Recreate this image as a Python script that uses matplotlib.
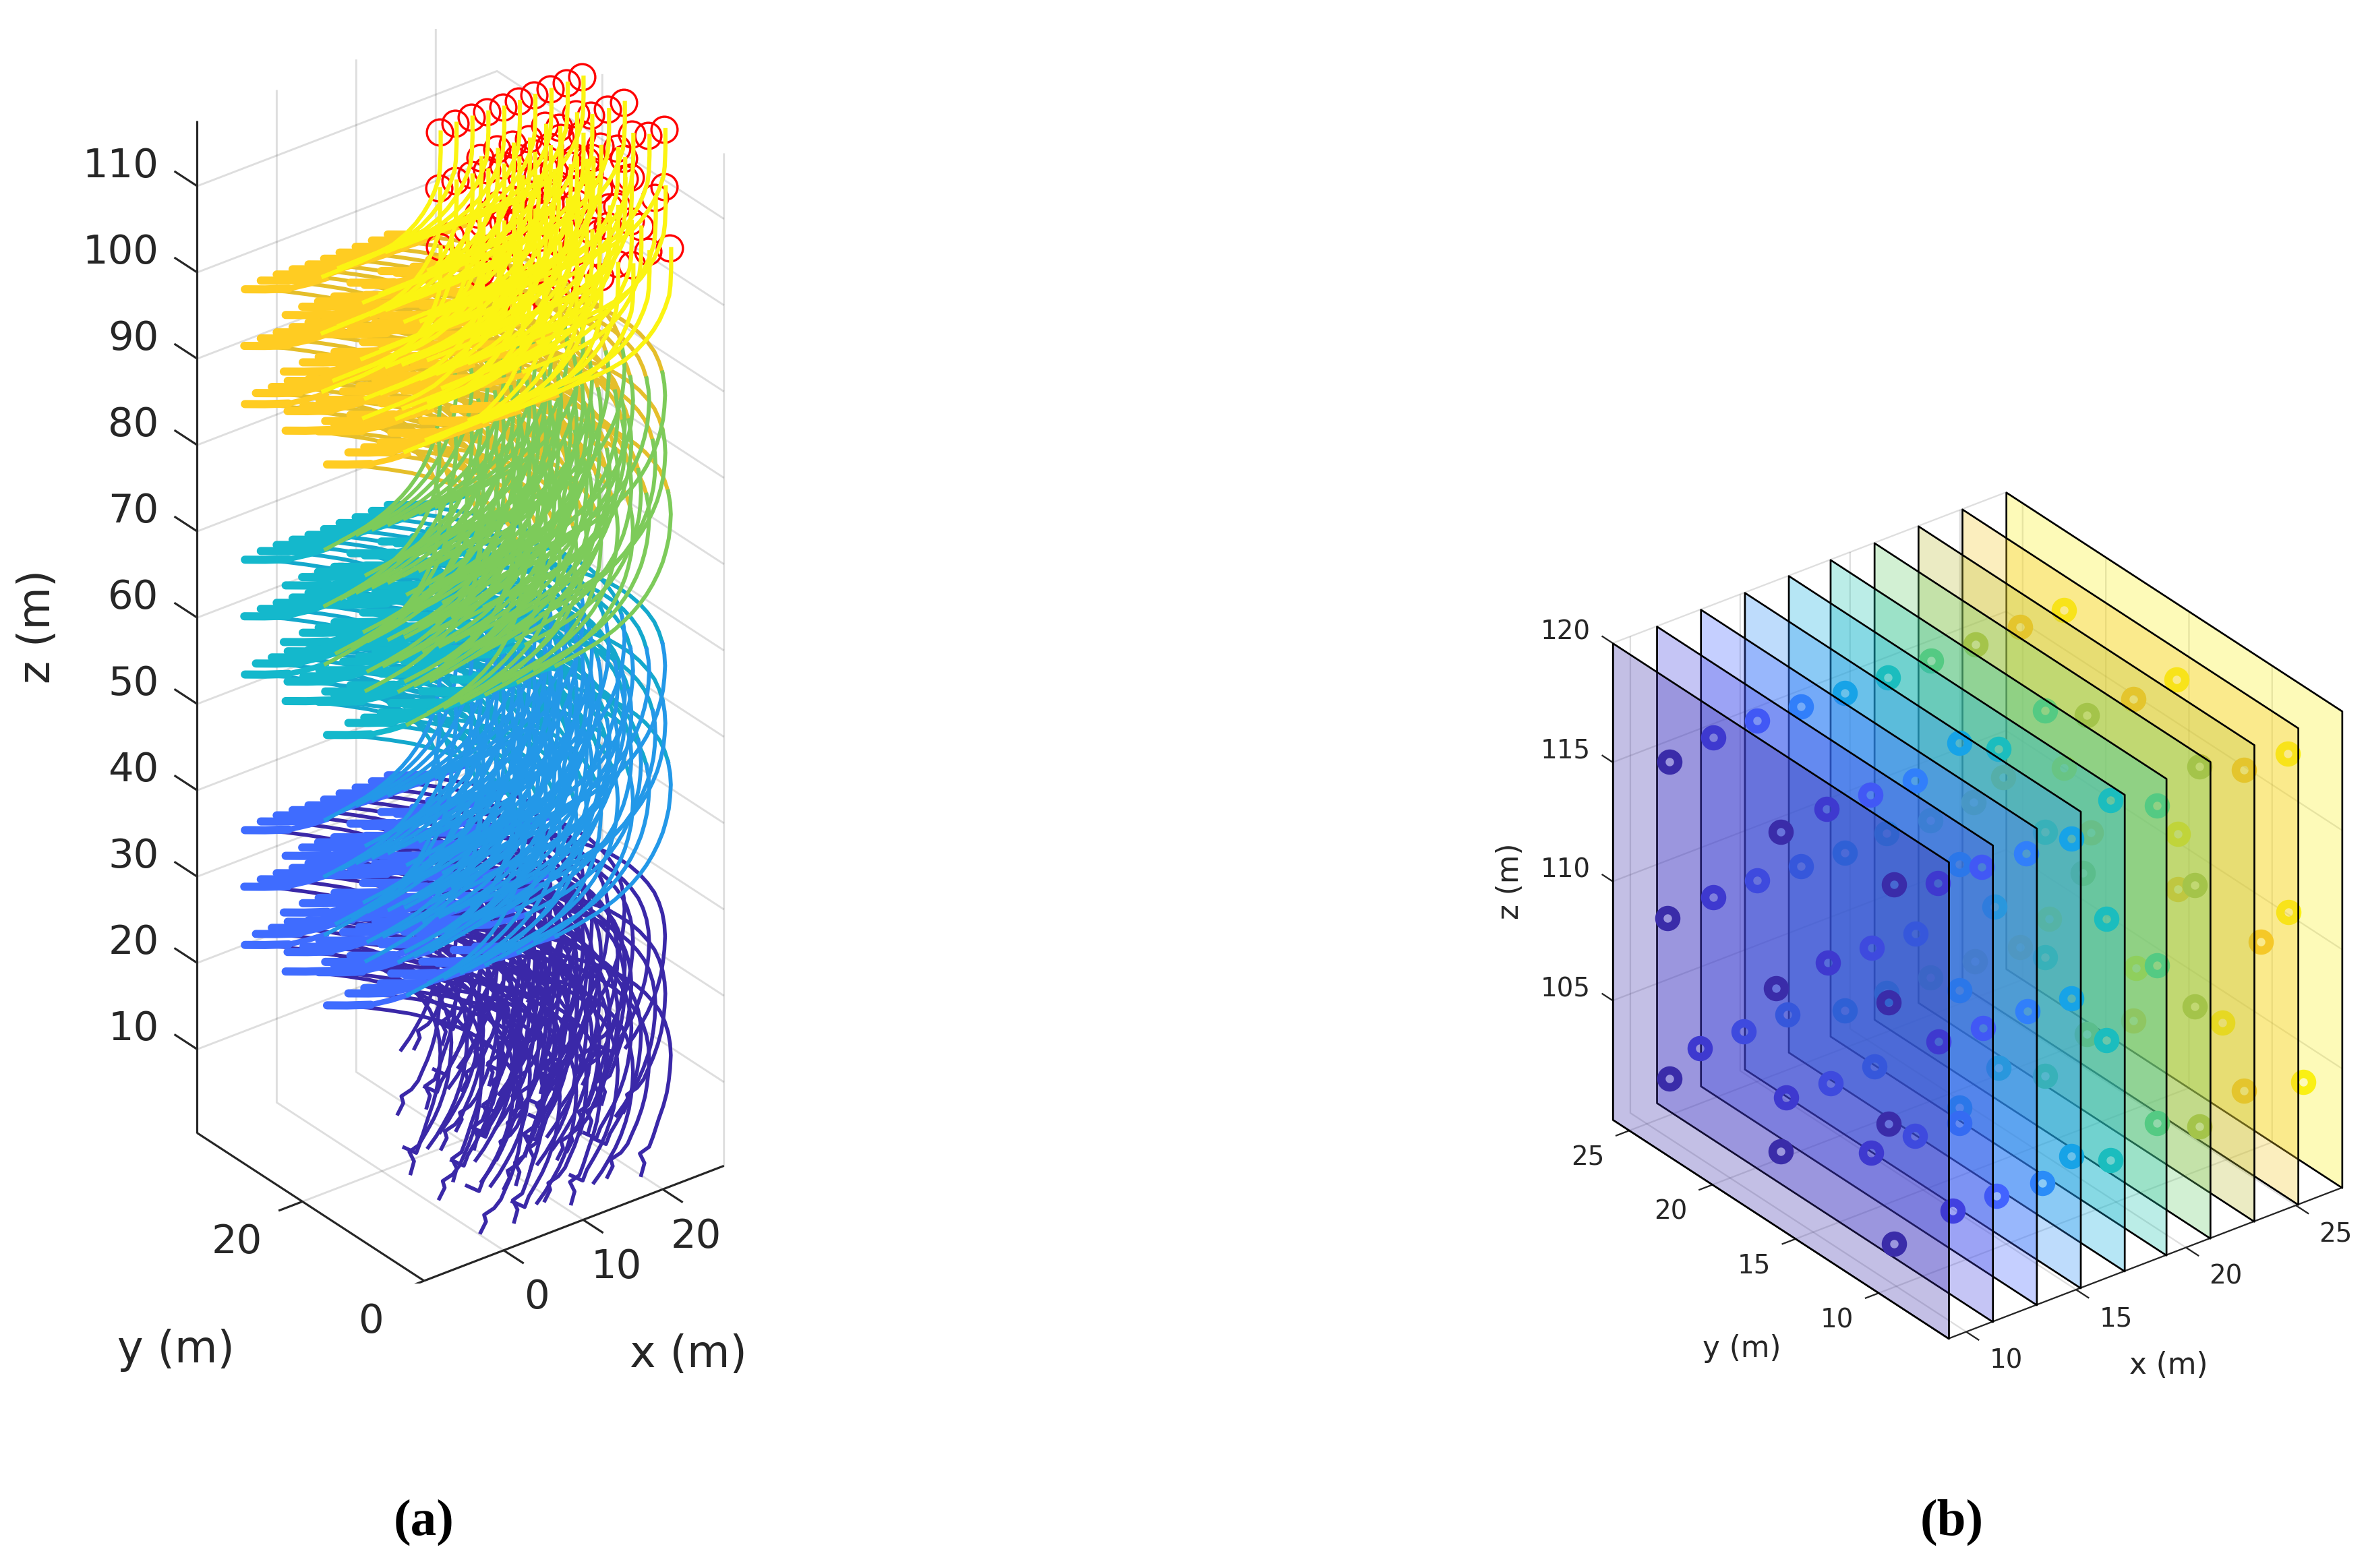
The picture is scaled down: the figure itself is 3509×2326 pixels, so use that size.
import matplotlib
matplotlib.use("Agg")
import matplotlib.pyplot as plt
import numpy as np
from mpl_toolkits.mplot3d import proj3d
from mpl_toolkits.mplot3d.art3d import Poly3DCollection

W_PX, H_PX = 3509, 2326
DPI = 300
INK = '#262626'
plt.rcParams['font.family'] = ['DejaVu Sans']

# ---------- data: final formation, one list per x plane ----------
PLANE_X = [9.2, 11.2, 13.2, 15.2, 17.2, 19.1, 21.1, 23.1, 25.1, 27.1]
PLANE_COLORS = ['#3A2CA9', '#4040E0', '#4263FF', '#2A8CF8', '#10ADE0',
                '#20C4B0', '#6BCE70', '#BDC03A', '#F5C828', '#FAF014']
PLANE_Y = [
    [22.6, 22.7, 22.6, 15.9, 16.2, 15.9, 9.1, 9.4, 9.4, 9.1],
    [22.6, 22.6, 23.4, 15.8, 15.7, 18.2, 13.1, 9.1, 9.05, 8.2],
    [22.6, 22.6, 23.4, 15.8, 15.7, 18.2, 13.1, 9.1, 9.0, 8.2],
    [22.6, 22.6, 23.4, 15.75, 15.7, 18.2, 13.08, 9.05, 9.0, 8.1],
    [22.6, 22.6, 22.6, 15.71, 15.71, 15.71, 15.71, 9.01, 9.01, 9.01],
    [22.52, 22.6, 22.6, 15.87, 16.14, 15.87, 9.15, 9.39, 9.39, 9.15],
    [22.59, 22.61, 22.61, 15.73, 15.73, 15.73, 15.73, 8.99, 8.99, 8.99],
    [22.56, 22.68, 22.59, 15.85, 16.1, 15.84, 9.1, 9.37, 9.37, 9.1],
    [22.5, 23.52, 22.5, 15.71, 18.26, 15.69, 13.01, 9.06, 8.03, 9.06],
    [22.52, 22.52, 23.41, 15.73, 15.67, 18.17, 13.01, 9.06, 9.02, 8.12],
]
PLANE_Z = [
    [116.57, 109.97, 103.27, 116.67, 109.97, 103.27, 117.57, 112.47, 107.37, 102.47],
    [116.87, 110.17, 103.47, 116.97, 110.57, 103.77, 103.77, 116.92, 110.27, 103.57],
    [116.87, 110.17, 103.47, 116.87, 110.47, 103.67, 103.77, 116.87, 110.17, 103.47],
    [116.77, 110.07, 103.47, 116.77, 110.37, 103.67, 103.62, 116.77, 110.17, 103.37],
    [116.62, 109.91, 103.31, 117.67, 112.57, 107.27, 102.36, 116.69, 109.98, 103.37],
    [116.65, 110.07, 103.37, 116.67, 109.92, 103.29, 117.58, 112.48, 107.38, 102.45],
    [116.62, 109.89, 103.29, 117.63, 112.53, 107.27, 102.31, 116.70, 109.99, 103.38],
    [116.60, 109.93, 103.27, 116.66, 109.93, 103.30, 117.58, 112.48, 107.39, 102.47],
    [116.65, 109.87, 103.20, 116.72, 109.95, 103.23, 109.95, 116.76, 110.02, 103.29],
    [116.63, 110.02, 103.29, 116.82, 110.35, 103.60, 103.64, 116.74, 110.11, 103.39],
]

# ---------- data: trajectory shape, in metres ----------
# offsets from each stage's turning point (leftmost end of the flat stub)
STUB_THICK_DX = [0.0, 2.54, 5.51]
STUB_THICK_DZ = [0.0, -0.91, -1.88]
STUB_THIN_DX = [5.51, 8.05, 10.17]
STUB_THIN_DZ = [-1.88, -2.24, -2.37]
RISE_DX = [10.17, 11.44, 12.71, 13.98, 15.25, 16.44, 17.63, 18.73, 19.75, 20.68,
           21.53, 22.29, 22.97, 23.56, 23.98, 24.32, 24.49, 24.58, 24.49, 24.24]
RISE_DZ = [-2.37, -2.20, -2.03, -1.78, -1.53, -1.17, -0.73, -0.19, 0.39, 1.07,
           1.86, 2.76, 3.77, 4.89, 6.07, 7.35, 8.70, 10.07, 11.43, 12.85]
ARRIVE_DX = [24.24, 23.81, 23.22, 22.37, 21.36, 20.17, 18.90, 17.54, 16.10, 14.58,
             13.05, 10.51, 7.80, 5.08, 2.54, 0.0]
ARRIVE_DZ = [12.85, 14.25, 15.64, 17.03, 18.41, 19.77, 21.00, 22.19, 23.25, 24.26,
             25.19, 26.65, 28.00, 29.28, 30.34, 31.33]
RISE_TOP_INDEX = 17
STAGE_RISE = 31.33
# take-off tails, offsets from the first turning point
TAIL_DX = [
    [19.66, 20.68, 21.53, 22.37, 23.05, 23.64, 24.07, 24.32, 24.49],
    [19.32, 20.00, 19.75, 21.02, 21.86, 22.37, 23.05, 23.64, 24.07, 24.32, 24.49],
    [20.85, 21.27, 20.68, 21.86, 22.37, 23.05, 23.64, 24.07, 24.32, 24.49],
    [18.64, 20.17, 20.68, 21.53, 22.37, 23.05, 23.64, 24.07, 24.32, 24.49],
]
TAIL_DZ = [
    [-32.39, -31.43, -30.40, -29.30, -28.13, -26.78, -25.45, -24.13, -22.79],
    [-33.13, -32.12, -31.25, -30.92, -30.21, -29.30, -28.13, -26.78, -25.45, -24.13, -22.79],
    [-33.83, -32.58, -31.27, -30.91, -29.84, -28.13, -26.78, -25.45, -24.13, -22.79],
    [-31.33, -32.50, -31.43, -30.40, -29.30, -28.13, -26.78, -25.45, -24.13, -22.79],
]
# last stage: offsets from the end point
FINAL_DX = [-14.58, -12.29, -9.75, -7.63, -5.76, -4.24, -2.97, -2.03, -1.27, -0.59, -0.08, 0.08, 0.17, 0.17]
FINAL_DZ = [-11.60, -11.56, -11.53, -11.34, -10.99, -10.37, -9.57, -8.73, -7.83, -6.66, -5.44, -4.33, -2.41, -0.14]
LAST_TIP_DX, LAST_TIP_DZ = -24.45, -9.6

COL_INDIGO = '#3A28A8'
COL_STUB = ['#3F6CFF', '#14B8CC', '#FFCC22']
COL_RISE = ['#2398E8', '#7DCB5A']
COL_ARRIVE = ['#14A8CC', '#E5BE2A']
COL_YELLOW = '#FBF412'

A_XLIM, A_YLIM, A_ZLIM = (-10, 27.7), (0, 37.3), (0.3, 117.6)
A_XT, A_YT, A_ZT = [0, 10, 20], [0, 20], list(range(10, 111, 10))
B_XLIM, B_YLIM, B_ZLIM = (9.2, 27.1), (5.8, 26), (100, 120)
B_XT, B_YT, B_ZT = [10, 15, 20, 25], [10, 15, 20, 25], [105, 110, 115, 120]

fig = plt.figure(figsize=(W_PX / DPI, H_PX / DPI), dpi=DPI)


def setup(ax, xl, yl, zl, xt, yt, zt, box, lw):
    ax.set_proj_type('ortho')
    ax.view_init(elev=30, azim=-127.5)
    ax.set_xlim(*xl, view_margin=0)
    ax.set_ylim(*yl, view_margin=0)
    ax.set_zlim(*zl, view_margin=0)
    ax.set_box_aspect(box)
    ax.computed_zorder = False
    ax.patch.set_visible(False)
    ax.set_xticks(xt)
    ax.set_yticks(yt)
    ax.set_zticks(zt)
    for a in (ax.xaxis, ax.yaxis, ax.zaxis):
        a.set_pane_color((1, 1, 1, 0))
        a.pane.set_edgecolor('none')
        a.line.set_color((0, 0, 0, 0))
        a._axinfo['grid'].update(color=(0.15, 0.15, 0.15, 0.15), linewidth=lw)
        a._axinfo['tick'].update(inward_factor=0.0, outward_factor=0.0)
        a.set_tick_params(label1On=False, label2On=False, color=(0, 0, 0, 0))


def fit(ax, a3, c3, a_px, c_px):
    W = 1500.0
    l, b = 0.0, 0.0
    for _ in range(4):
        ax.set_position([l / W_PX, b / H_PX, W / W_PX, W / H_PX])
        ax.apply_aspect()
        M = ax.get_proj()
        pts = []
        for p in (a3, c3):
            X, Y, _z = proj3d.proj_transform(*p, M)
            pts.append(ax.transData.transform((X, Y)))
        pa, pc = np.array(pts)
        ta = np.array([a_px[0], H_PX - a_px[1]], float)
        tc = np.array([c_px[0], H_PX - c_px[1]], float)
        r = np.linalg.norm(tc - ta) / np.linalg.norm(pc - pa)
        origin = np.array([l, b])
        new_pa = origin + (pa - origin) * r
        shift = ta - new_pa
        W *= r
        l, b = l + shift[0], b + shift[1]
    ax.set_position([l / W_PX, b / H_PX, W / W_PX, W / H_PX])
    ax.apply_aspect()


def frame(ax, xl, yl, zl, xt, yt, zt, xlen, ylen, zlen, lw):
    kw = dict(color=INK, lw=lw, zorder=0, solid_capstyle='butt')
    ax.plot(xl, [yl[0], yl[0]], [zl[0], zl[0]], **kw)
    ax.plot([xl[0], xl[0]], yl, [zl[0], zl[0]], **kw)
    ax.plot([xl[0], xl[0]], [yl[1], yl[1]], zl, **kw)
    for t in xt:
        ax.plot([t, t], [yl[0], yl[0] - xlen], [zl[0], zl[0]], **kw)
    for t in yt:
        ax.plot([xl[0], xl[0] - ylen], [t, t], [zl[0], zl[0]], **kw)
    for t in zt:
        ax.plot([xl[0], xl[0]], [yl[1], yl[1] + zlen], [t, t], **kw)


def label3d(ax, x, y, z, dx, dy, s, ha, size):
    X, Y, _z = proj3d.proj_transform(x, y, z, ax.get_proj())
    d = ax.transData.transform((X, Y))
    fig.text((d[0] + dx) / W_PX, (d[1] - dy) / H_PX, s, ha=ha, va='center', fontsize=size, color=INK)


# ---------- panel (a) ----------
axa = fig.add_subplot(projection='3d')
setup(axa, A_XLIM, A_YLIM, A_ZLIM, A_XT, A_YT, A_ZT, (561.7, 554, 1738), 0.7)
fit(axa, (A_XLIM[0], A_YLIM[0], A_ZLIM[0]), (A_XLIM[0], A_YLIM[1], A_ZLIM[1]), (629, 1900), (291, 179))
frame(axa, A_XLIM, A_YLIM, A_ZLIM, A_XT, A_YT, A_ZT, 3.3, 3.0, 3.76, 0.75)

A_Z_SHIFT = -0.32
LW = 1.4
for i, px in enumerate(PLANE_X):
    for j in range(len(PLANE_Y[i])):
        ey, ez = PLANE_Y[i][j], PLANE_Z[i][j] + A_Z_SHIFT
        ys = lambda arr: [ey] * len(arr)
        tips_z = [ez + LAST_TIP_DZ - 2 * STAGE_RISE, ez + LAST_TIP_DZ - STAGE_RISE, ez + LAST_TIP_DZ]
        tip_x = px + LAST_TIP_DX
        v = (i + j) % len(TAIL_DX)
        low = tips_z[0] - STAGE_RISE
        gx = ([tip_x + d for d in TAIL_DX[v]] + [tip_x + d for d in RISE_DX[RISE_TOP_INDEX:]]
              + [tip_x + d for d in ARRIVE_DX[1:]])
        gz = ([tips_z[0] + d for d in TAIL_DZ[v]] + [low + d for d in RISE_DZ[RISE_TOP_INDEX:]]
              + [low + d for d in ARRIVE_DZ[1:]])
        axa.plot(gx, [ey] * len(gx), gz, color=COL_INDIGO, lw=LW * 0.95, zorder=1)
        for s in range(3):
            tz = tips_z[s]
            if s > 0:
                lz = tips_z[s - 1]
                axa.plot([tip_x + d for d in ARRIVE_DX], ys(ARRIVE_DX), [lz + d for d in ARRIVE_DZ],
                         color=COL_ARRIVE[s - 1], lw=LW, zorder=2 + 3 * s)
                axa.plot([tip_x + d for d in RISE_DX], ys(RISE_DX), [lz + d for d in RISE_DZ],
                         color=COL_RISE[s - 1], lw=LW, zorder=3 + 3 * s)
            axa.plot([tip_x + d for d in STUB_THICK_DX], ys(STUB_THICK_DX), [tz + d for d in STUB_THICK_DZ],
                     color=COL_STUB[s], lw=2.9, solid_capstyle='round', zorder=4 + 3 * s)
            axa.plot([tip_x + d for d in STUB_THIN_DX], ys(STUB_THIN_DX), [tz + d for d in STUB_THIN_DZ],
                     color=COL_STUB[s], lw=2.0, zorder=4 + 3 * s)
        axa.plot([px], [ey], [ez], 'o', mfc='none', mec='#FF0000', ms=9.3, mew=0.8, zorder=20)
        axa.plot([px + d for d in FINAL_DX], ys(FINAL_DX), [ez + d for d in FINAL_DZ],
                 color=COL_YELLOW, lw=LW + 0.1, zorder=21)

for t in A_XT:
    label3d(axa, t, A_YLIM[0], A_ZLIM[0], 49, 70, str(t), 'center', 14.2)
for t in A_YT:
    label3d(axa, A_XLIM[0], t, A_ZLIM[0], -60, 60, str(t), 'right', 14.2)
for t in A_ZT:
    label3d(axa, A_XLIM[0], A_YLIM[1], t, -57, -30, str(t), 'right', 14.2)

# ---------- panel (b) ----------
axb = fig.add_axes([0.6, 0.1, 0.3, 0.3], projection='3d')
setup(axb, B_XLIM, B_YLIM, B_ZLIM, B_XT, B_YT, B_ZT, (735, 818, 816), 0.55)
fit(axb, (B_XLIM[0], B_YLIM[0], B_ZLIM[0]), (B_XLIM[0], B_YLIM[1], B_ZLIM[1]), (2890, 1985.6), (2392, 954))
frame(axb, B_XLIM, B_YLIM, B_ZLIM, B_XT, B_YT, B_ZT, 0.78, 0.63, 0.66, 0.55)

n = len(PLANE_X)
for i in range(n - 1, -1, -1):
    x0 = PLANE_X[i]
    verts = [[(x0, B_YLIM[0], B_ZLIM[0]), (x0, B_YLIM[1], B_ZLIM[0]),
              (x0, B_YLIM[1], B_ZLIM[1]), (x0, B_YLIM[0], B_ZLIM[1])]]
    rgb = matplotlib.colors.to_rgb(PLANE_COLORS[i])
    axb.plot([x0] * len(PLANE_Y[i]), PLANE_Y[i], PLANE_Z[i], 'o', ls='none', mfc='none',
             mec=PLANE_COLORS[i], ms=6.0, mew=3.0, zorder=2 * (n - i))
    poly = Poly3DCollection(verts, facecolors=[rgb + (0.3,)], edgecolors=['black'], linewidths=0.65,
                            zorder=2 * (n - i) + 1)
    axb.add_collection3d(poly)

for t in B_XT:
    label3d(axb, t, B_YLIM[0], B_ZLIM[0], 59, 43, str(t), 'center', 9.3)
for t in B_YT:
    label3d(axb, B_XLIM[0], t, B_ZLIM[0], -37, 40, str(t), 'right', 9.3)
for t in B_ZT:
    label3d(axb, B_XLIM[0], B_YLIM[1], t, -33, -17, str(t), 'right', 9.3)


def fig_text(px, py, s, **kw):
    fig.text(px / W_PX, 1 - py / H_PX, s, ha='center', va='center', **kw)


fig_text(56, 929, 'z (m)', fontsize=15.7, rotation=90, color=INK)
fig_text(261, 2003, 'y (m)', fontsize=15.7, color=INK)
fig_text(1021, 2010, 'x (m)', fontsize=15.7, color=INK)
fig_text(2240, 1307, 'z (m)', fontsize=10.5, rotation=90, color=INK)
fig_text(2583, 2000, 'y (m)', fontsize=10.5, color=INK)
fig_text(3216, 2026, 'x (m)', fontsize=10.5, color=INK)
fig_text(629, 2258, '(a)', fontsize=18.5, family='Liberation Serif', fontweight='bold', color='black')
fig_text(2895, 2258, '(b)', fontsize=18.5, family='Liberation Serif', fontweight='bold', color='black')

fig.savefig('out.png', dpi=DPI, facecolor='white')
